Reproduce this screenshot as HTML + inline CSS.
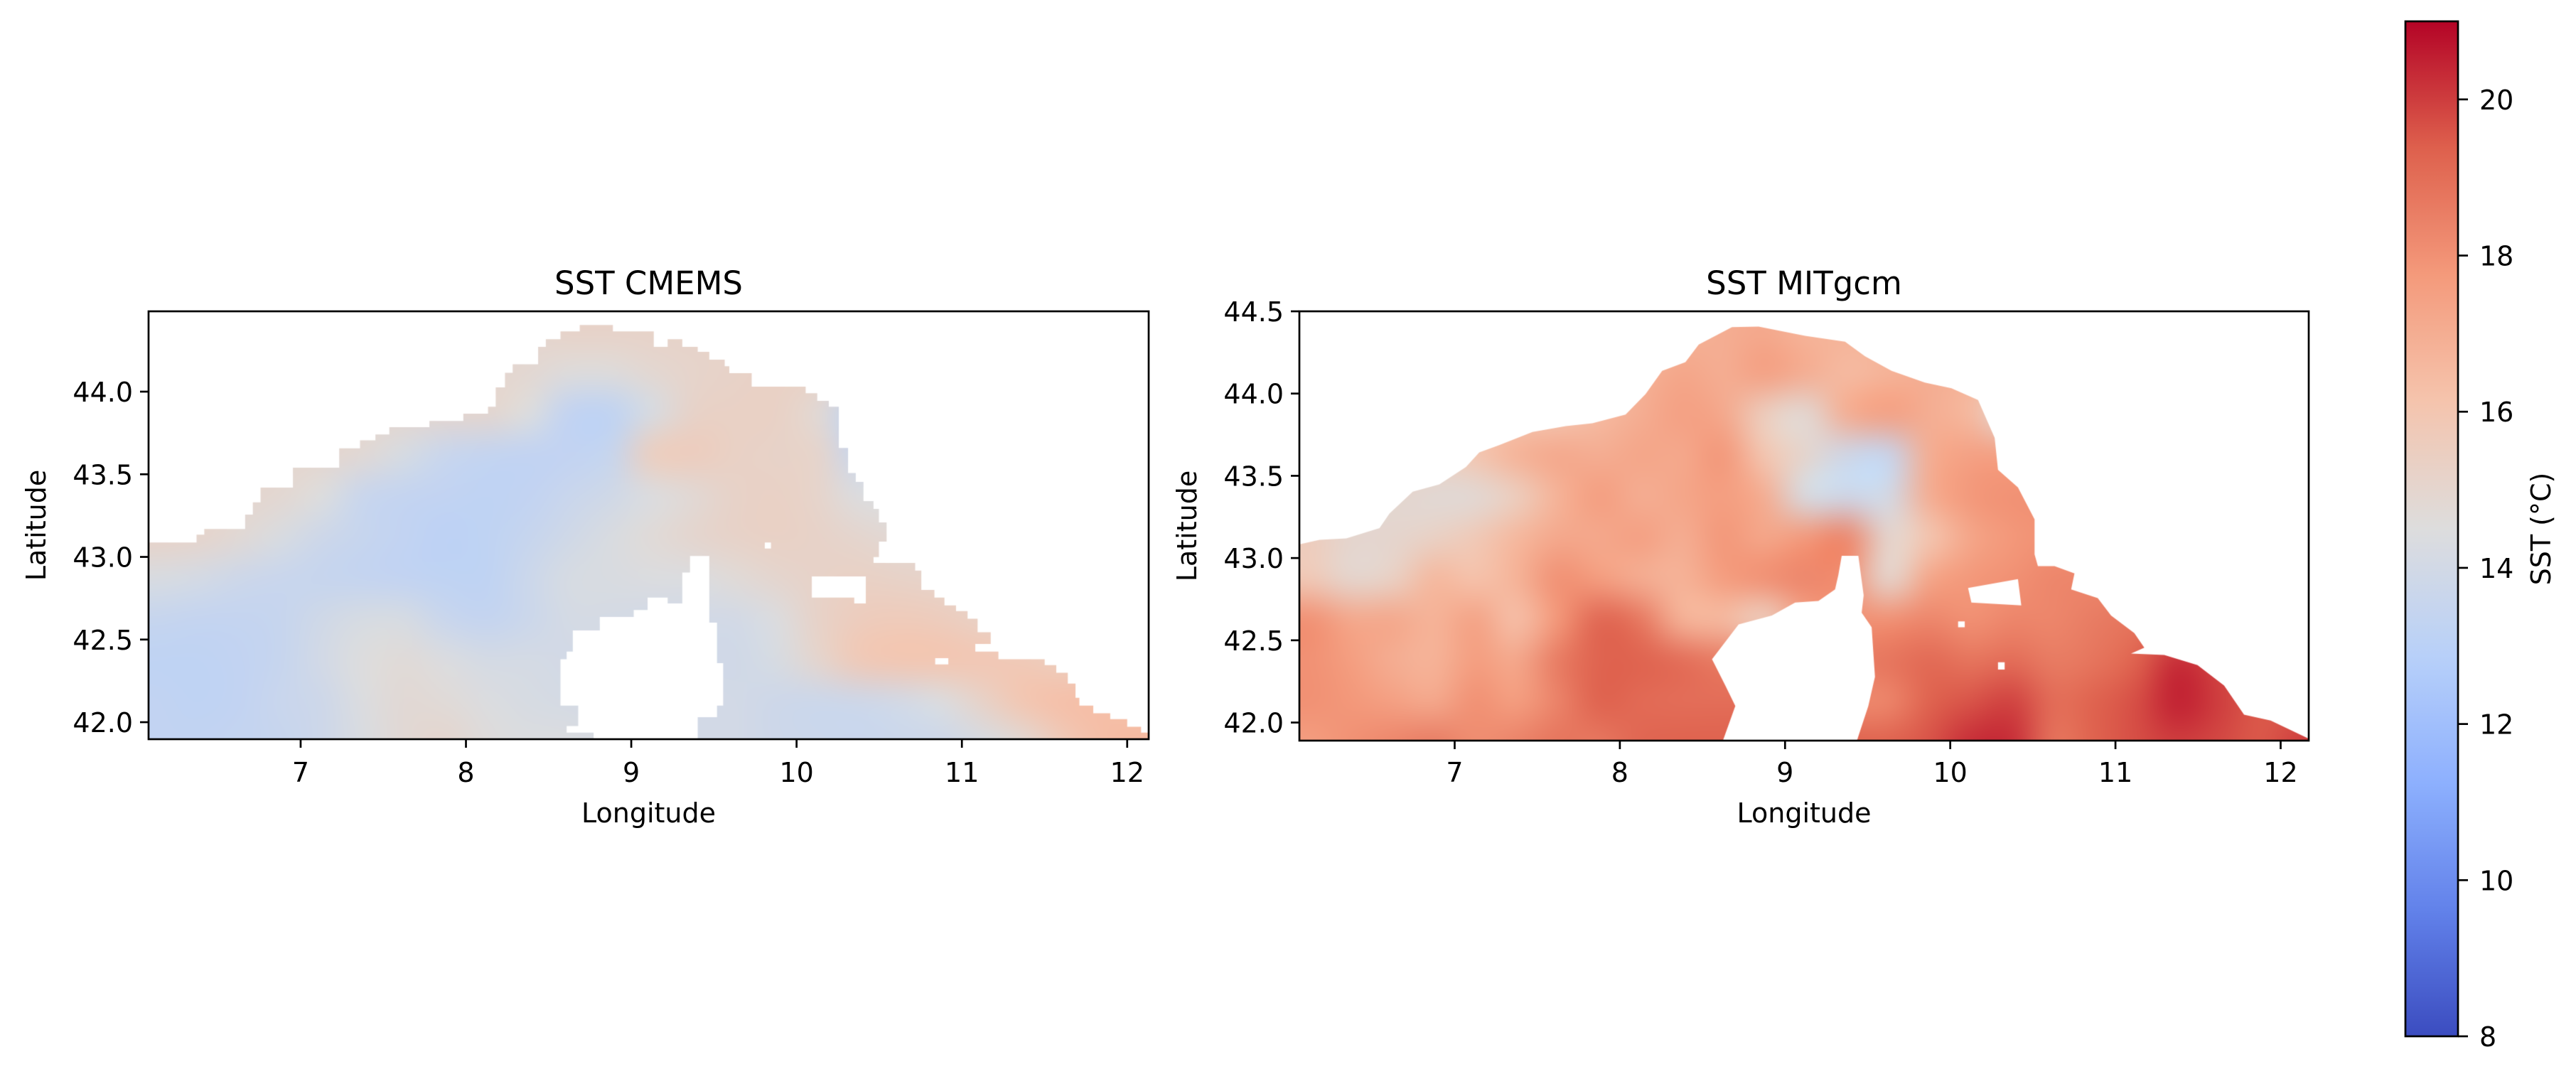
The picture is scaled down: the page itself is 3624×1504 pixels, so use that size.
<!DOCTYPE html>
<html><head><meta charset="utf-8"><style>
html,body{margin:0;padding:0;background:#fff;}
#wrap{position:relative;width:3624px;height:1504px;overflow:hidden;font-family:"DejaVu Sans","Liberation Sans",sans-serif;}
canvas{position:absolute;}
svg{position:absolute;left:0;top:0;}
text{font-family:"DejaVu Sans","Liberation Sans",sans-serif;fill:#000;}
</style></head><body>
<div id="wrap">
<canvas id="cL"></canvas>
<canvas id="cR"></canvas>
<svg id="ov" width="3624" height="1504"></svg>
</div>
<script>
// ---- data: grid cell centres ----
const lonCenters = [6.125,6.375,6.625,6.875,7.125,7.375,7.625,7.875,8.125,8.375,8.625,8.875,9.125,9.375,9.625,9.875,10.125,10.375,10.625,10.875,11.125,11.375,11.625,11.875,12.125];
const latCenters = [44.375,44.125,43.875,43.625,43.375,43.125,42.875,42.625,42.375,42.125,41.875];
const cmemsSST = [
[15,15,15,15,15,15,15,15,15,15,15.2,15.2,15.2,15.2,15.2,15.2,15.2,15.2,15,15,15,15,15,15,15],
[15,15,15,15,15,15,15,15,15,14.9,14.6,14.6,14.9,15.1,15.2,15.3,15.3,15,15,15,15,15,15,15,15],
[15,15,15,15,15,15,15,15,15,14.5,13.3,13.2,14.2,15.2,15.3,15.3,14.8,13.2,15,15,15,15,15,15,15],
[15,15,15,15,15,14.8,14.2,13.6,13.4,13.3,13.3,13.5,15.5,15.6,15.3,15.2,15.1,13.6,15,15,15,15,15,15,15],
[15,15,15,14.9,14.5,13.6,13.4,13.3,13.2,13.3,13.6,13.9,14.4,14.8,15.2,15.3,15.1,14.4,14.5,15,15,15,15,15,15],
[15.2,15.1,14.8,14.3,13.8,13.5,13.3,13.1,13.2,13.5,13.9,14.3,14.7,15.0,15.2,15.3,15.2,15.0,14.8,15,15,15,15,15,15],
[14.3,14.1,13.8,13.6,13.5,13.4,13.3,13.2,13.2,13.7,14.2,14.3,14.4,14.4,14.7,15.0,15.2,15.3,15.2,15.1,15,15,15,15,15],
[13.5,13.4,13.4,13.5,13.9,14.2,14.2,13.6,13.4,13.7,14.1,14.1,14.0,14.0,14.0,14.4,15.2,15.6,15.7,15.6,15.3,15.2,15.2,15.2,15.2],
[13.2,13.2,13.3,13.5,14.0,14.5,14.7,14.4,14.1,14.1,14.0,14.0,14.0,14.0,13.9,14.2,15.0,15.8,16.0,16.0,15.9,15.8,15.5,15.5,15.5],
[13.3,13.2,13.3,13.6,13.8,14.4,14.8,14.7,14.4,14.2,14.1,14.0,14.0,14.0,14.0,13.8,13.7,13.8,14.0,14.4,15.2,16.0,16.3,16.3,16.0],
[13.3,13.3,13.4,13.5,13.8,14.3,14.8,15.0,14.6,14.4,14.4,14.2,14.0,14.0,14.0,13.8,13.7,13.6,13.7,13.8,14.2,14.8,15.8,16.4,16.6]
];
const mitgcmSST = [
[16,16,16,16,16,16,16,16,16,16.8,17.0,17.2,16.8,16.8,16.8,16.8,16.8,16.5,17,17,17,17,17,17,17],
[16,16,16,16,16,16,16,16,16.8,17.3,17.0,17.5,17.0,16.5,16.8,17,16.8,16.5,17,17,17,17,17,17,17],
[16,16,16,16,16,16,16,16.5,17.0,17.5,17.2,15.5,14.8,17.0,17.5,17.0,16.5,14.5,17,17,17,17,17,17,17],
[16,16,16,15.5,16.0,16.8,17.2,17.0,17.3,17.2,17.8,16.0,15.0,13.8,13.5,17.0,17.5,17.5,17.5,17.5,17.5,17.5,17.5,17.5,17.5],
[15,15,15.0,14.8,14.8,15.5,16.8,17.6,17.0,17.3,17.6,17.0,14.2,13.8,14.0,17.0,17.8,18.0,18,18,18,18,18,18,18],
[15.6,15.0,15.0,15.3,15.8,16.6,17.2,17.2,17.5,17.0,17.8,17.3,17.8,18.3,15.0,16.0,17.3,17.8,18.0,18.0,18.0,18.0,18.0,18.0,18.0],
[15.8,15.0,15.3,16.6,16.2,16.8,18.0,17.6,17.0,16.8,17.6,18.0,18.3,18.0,15.0,17.3,17.8,18.0,18.3,18.3,18.3,18.3,18.3,18.3,18.3],
[18.0,17.2,17.2,16.8,17.4,16.3,17.8,19.2,18.7,16.8,16.5,15.5,17.5,18.0,18.0,18.3,18.0,18.3,18.3,18.6,18.8,18.8,18.8,18.8,18.8],
[18.0,17.6,17.0,16.8,17.6,17.2,18.6,19.3,19.3,19.0,18.6,18.6,18.6,18.6,18.8,19.1,18.8,19.0,18.6,18.8,19.3,20.3,19.8,19.5,19.5],
[18.0,17.8,17.5,17.2,18.0,17.6,18.4,19.3,19.1,19.0,19.0,19.0,18.8,18.3,18.3,19.3,19.6,19.9,19.0,19.3,19.7,20.5,20.0,19.5,19.5],
[17.6,18.0,18.3,18.6,18.1,18.4,18.8,18.7,19.2,19.3,19.3,19.3,19.3,19.3,19.3,19.6,20.3,20.3,18.8,19.3,19.7,20.0,19.8,19.5,20.0]
];
const xTickValues = [7,8,9,10,11,12];
const yTickValuesL = [42.0,42.5,43.0,43.5,44.0];
const yTickValuesR = [42.0,42.5,43.0,43.5,44.0,44.5];
const cbarTicks = [8,10,12,14,16,18,20];
const vmin = 8, vmax = 21;

const coastL = [[150,762],[255,762],[255,742],[265,742],[265,727],[318,727],[318,690],[328,690],[328,658],[338,658],[338,620],[380,620],[380,568],[440,568],[440,518],[467,518],[467,497],[487,497],[487,482],[505,482],[505,463],[557,463],[557,447],[601,447],[601,428],[633,428],[633,410],[643,410],[643,360],[655,360],[655,322],[665,322],[665,300],[698,300],[698,255],[708,255],[708,235],[727,235],[727,215],[752,215],[752,198],[795,198],[795,215],[848,215],[848,255],[866,255],[866,235],[885,235],[885,255],[905,255],[905,268],[920,268],[920,288],[940,288],[940,305],[946,305],[946,323],[975,323],[975,358],[1045,358],[1045,375],[1060,375],[1060,395],[1075,395],[1075,410],[1088,410],[1088,517],[1100,517],[1100,582],[1110,582],[1110,605],[1120,605],[1120,655],[1133,655],[1133,675],[1140,675],[1140,710],[1150,710],[1150,760],[1140,760],[1140,800],[1133,800],[1133,815],[1187,815],[1187,835],[1195,835],[1195,885],[1212,885],[1212,905],[1225,905],[1225,925],[1240,925],[1240,940],[1255,940],[1255,960],[1268,960],[1268,995],[1285,995],[1285,1025],[1265,1025],[1265,1045],[1295,1045],[1295,1065],[1355,1065],[1355,1080],[1370,1080],[1370,1100],[1385,1100],[1385,1128],[1395,1128],[1395,1165],[1400,1165],[1400,1185],[1418,1185],[1418,1205],[1440,1205],[1440,1220],[1462,1220],[1462,1240],[1480,1240],[1480,1255],[1600,1255]];
const holesL = [
[[895,797],[920,797],[920,970],[930,970],[930,1075],[938,1075],[938,1185],[930,1185],[930,1215],[905,1215],[905,1300],[770,1300],[770,1255],[735,1255],[735,1238],[750,1238],[750,1185],[727,1185],[727,1065],[735,1065],[735,1045],[743,1045],[743,990],[778,990],[778,955],[822,955],[822,937],[840,937],[840,905],[866,905],[866,920],[885,920],[885,840],[895,840]],
[[1053,850],[1123,850],[1123,920],[1108,920],[1108,905],[1053,905]],
[[1213,1062],[1230,1062],[1230,1078],[1213,1078]],
[[992,762],[1000,762],[1000,778],[992,778]]
];
const coastR = [[0,845],[30,845],[60,830],[100,825],[150,790],[165,740],[200,665],[240,640],[280,580],[300,530],[330,505],[380,460],[430,440],[470,430],[520,400],[550,330],[575,250],[610,220],[630,160],[680,100],[720,98],[790,130],[850,150],[880,200],[920,250],[970,290],[1010,310],[1050,350],[1075,480],[1080,590],[1110,650],[1135,760],[1135,880],[1140,920],[1165,920],[1195,945],[1190,1000],[1230,1030],[1250,1090],[1285,1150],[1300,1200],[1280,1220],[1330,1225],[1380,1260],[1420,1330],[1450,1430],[1490,1450],[1545,1510],[1600,1560]];
const holesR = [
[[845,885],[870,885],[878,1020],[875,1080],[890,1130],[895,1300],[885,1400],[862,1560],[660,1560],[685,1400],[670,1330],[650,1240],[670,1180],[690,1120],[740,1090],[775,1045],[810,1040],[835,1000],[840,950]],
[[1035,995],[1110,965],[1115,1055],[1040,1045]],
[[1020,1110],[1030,1110],[1030,1130],[1020,1130]],
[[1080,1250],[1090,1250],[1090,1275],[1080,1275]]
];
function digL(p){return [7+(p[0]-390)/214.4, 44-(p[1]-371)/428.5];}
function digR(p){return [7+(p[0]-263)/248.4, 44-(p[1]-328)/564.5];}

// colormap (coolwarm)
const cmStops=[[59,76,192],[98,130,234],[141,176,254],[184,208,249],[221,221,221],[245,196,173],[244,154,123],[222,96,77],[180,4,38]];
function cmap(v){let t=(v-vmin)/(vmax-vmin);t=Math.max(0,Math.min(1,t));const f=t*8;const i=Math.min(7,Math.floor(f));const u=f-i;
 const a=cmStops[i],b=cmStops[i+1];return [0,1,2].map(k=>Math.round(a[k]+(b[k]-a[k])*u));}

const panels=[
 {id:'cL',name:'cmems',title:'SST CMEMS',x0:209,x1:1616,y0:438,y1:1040,xlim:[6.08,12.13],ylim:[41.897,44.486],vals:cmemsSST,coast:coastL.map(digL),holes:holesL.map(h=>h.map(digL)),yt:yTickValuesL},
 {id:'cR',name:'mitgcm',title:'SST MITgcm',x0:1828,x1:3248,y0:438,y1:1042,xlim:[6.06,12.17],ylim:[41.89,44.50],vals:mitgcmSST,coast:coastR.map(digR),holes:holesR.map(h=>h.map(digR)),yt:yTickValuesR}
];
const NS='http://www.w3.org/2000/svg';
const ov=document.getElementById('ov');
function mk(tag,attrs,parent){const e=document.createElementNS(NS,tag);for(const k in attrs)e.setAttribute(k,attrs[k]);(parent||ov).appendChild(e);return e;}

panels.forEach(P=>{
 const W=P.x1-P.x0,H=P.y1-P.y0;
 const sx=W/(P.xlim[1]-P.xlim[0]), sy=H/(P.ylim[1]-P.ylim[0]);
 const X=lon=>(lon-P.xlim[0])*sx, Y=lat=>(P.ylim[1]-lat)*sy;
 const cv=document.getElementById(P.id);cv.width=W;cv.height=H;cv.style.left=P.x0+'px';cv.style.top=P.y0+'px';
 const ctx=cv.getContext('2d');
 const nc=lonCenters.length,nr=latCenters.length;
 const sm=document.createElement('canvas');sm.width=nc;sm.height=nr;
 const sctx=sm.getContext('2d');const img=sctx.createImageData(nc,nr);
 for(let r=0;r<nr;r++)for(let c=0;c<nc;c++){const col=cmap(P.vals[r][c]);const o=(r*nc+c)*4;img.data[o]=col[0];img.data[o+1]=col[1];img.data[o+2]=col[2];img.data[o+3]=255;}
 sctx.putImageData(img,0,0);
 const dlon=lonCenters[1]-lonCenters[0], dlat=latCenters[0]-latCenters[1];
 const gx0=X(lonCenters[0]-dlon/2), gx1=X(lonCenters[nc-1]+dlon/2);
 const gy0=Y(latCenters[0]+dlat/2), gy1=Y(latCenters[nr-1]-dlat/2);
 ctx.save();
 ctx.beginPath();
 const c0=P.coast;
 ctx.moveTo(X(c0[0][0]),Y(c0[0][1]));
 c0.forEach(p=>ctx.lineTo(X(p[0]),Y(p[1])));
 ctx.lineTo(W+200,H+200);ctx.lineTo(-200,H+200);ctx.lineTo(-200,Y(c0[0][1]));ctx.closePath();
 P.holes.forEach(h=>{ctx.moveTo(X(h[0][0]),Y(h[0][1]));h.forEach(p=>ctx.lineTo(X(p[0]),Y(p[1])));ctx.closePath();});
 ctx.clip('evenodd');
 ctx.imageSmoothingEnabled=true;ctx.imageSmoothingQuality='high';
 ctx.drawImage(sm,gx0,gy0,gx1-gx0,gy1-gy0);
 ctx.restore();

 const g=mk('g',{});
 
 
 const fr=mk('rect',{x:P.x0,y:P.y0,width:W,height:H,fill:'none',stroke:'#000','stroke-width':2.7},g);
 
 
 xTickValues.forEach(v=>{const x=P.x0+X(v);
  const t=mk('line',{x1:x,x2:x,y1:P.y1,y2:P.y1+12,stroke:'#000','stroke-width':2.7},g);
  
  
  const l=mk('text',{x:x,y:1100,'text-anchor':'middle','font-size':38},g);l.textContent=String(v);
  
  
 });
 P.yt.forEach(v=>{const y=P.y0+Y(v);
  const t=mk('line',{x1:P.x0-12,x2:P.x0,y1:y,y2:y,stroke:'#000','stroke-width':2.7},g);
  
  
  const l=mk('text',{x:P.x0-22,y:y+14,'text-anchor':'end','font-size':38},g);l.textContent=v.toFixed(1);
  
  
 });
 const ti=mk('text',{x:(P.x0+P.x1)/2,y:414,'text-anchor':'middle','font-size':45},g);ti.textContent=P.title;
 
 
 const xl=mk('text',{x:(P.x0+P.x1)/2,y:1157,'text-anchor':'middle','font-size':38},g);xl.textContent='Longitude';
 
 
 const lx=P.x0-145;
 const yl=mk('text',{x:lx,y:(P.y0+P.y1)/2,'text-anchor':'middle','font-size':38,transform:`rotate(-90 ${lx} ${(P.y0+P.y1)/2})`},g);yl.textContent='Latitude';
 
 
});

// colorbar
const cb={x0:3384,x1:3458,y0:30,y1:1458};
const defs=mk('defs',{});
const lg=mk('linearGradient',{id:'cbg',x1:0,y1:1,x2:0,y2:0},defs);
for(let i=0;i<=40;i++){const v=vmin+(vmax-vmin)*i/40;const c=cmap(v);mk('stop',{offset:(i/40),'stop-color':`rgb(${c[0]},${c[1]},${c[2]})`},lg);}
const cbg=mk('g',{});


mk('rect',{x:cb.x0,y:cb.y0,width:cb.x1-cb.x0,height:cb.y1-cb.y0,fill:'url(#cbg)',stroke:'#000','stroke-width':2.7},cbg);
const cbY=v=>cb.y1-(v-vmin)/(vmax-vmin)*(cb.y1-cb.y0);
cbarTicks.forEach(v=>{const y=cbY(v);
 const t=mk('line',{x1:cb.x1,x2:cb.x1+14,y1:y,y2:y,stroke:'#000','stroke-width':2.7},cbg);
 
 
 const l=mk('text',{x:cb.x1+30,y:y+14,'font-size':38},cbg);l.textContent=String(v);
 
 
});
const cl=mk('text',{x:3588,y:744,'text-anchor':'middle','font-size':38,transform:'rotate(-90 3588 744)'},cbg);cl.textContent='SST (°C)';


</script>
</body></html>
